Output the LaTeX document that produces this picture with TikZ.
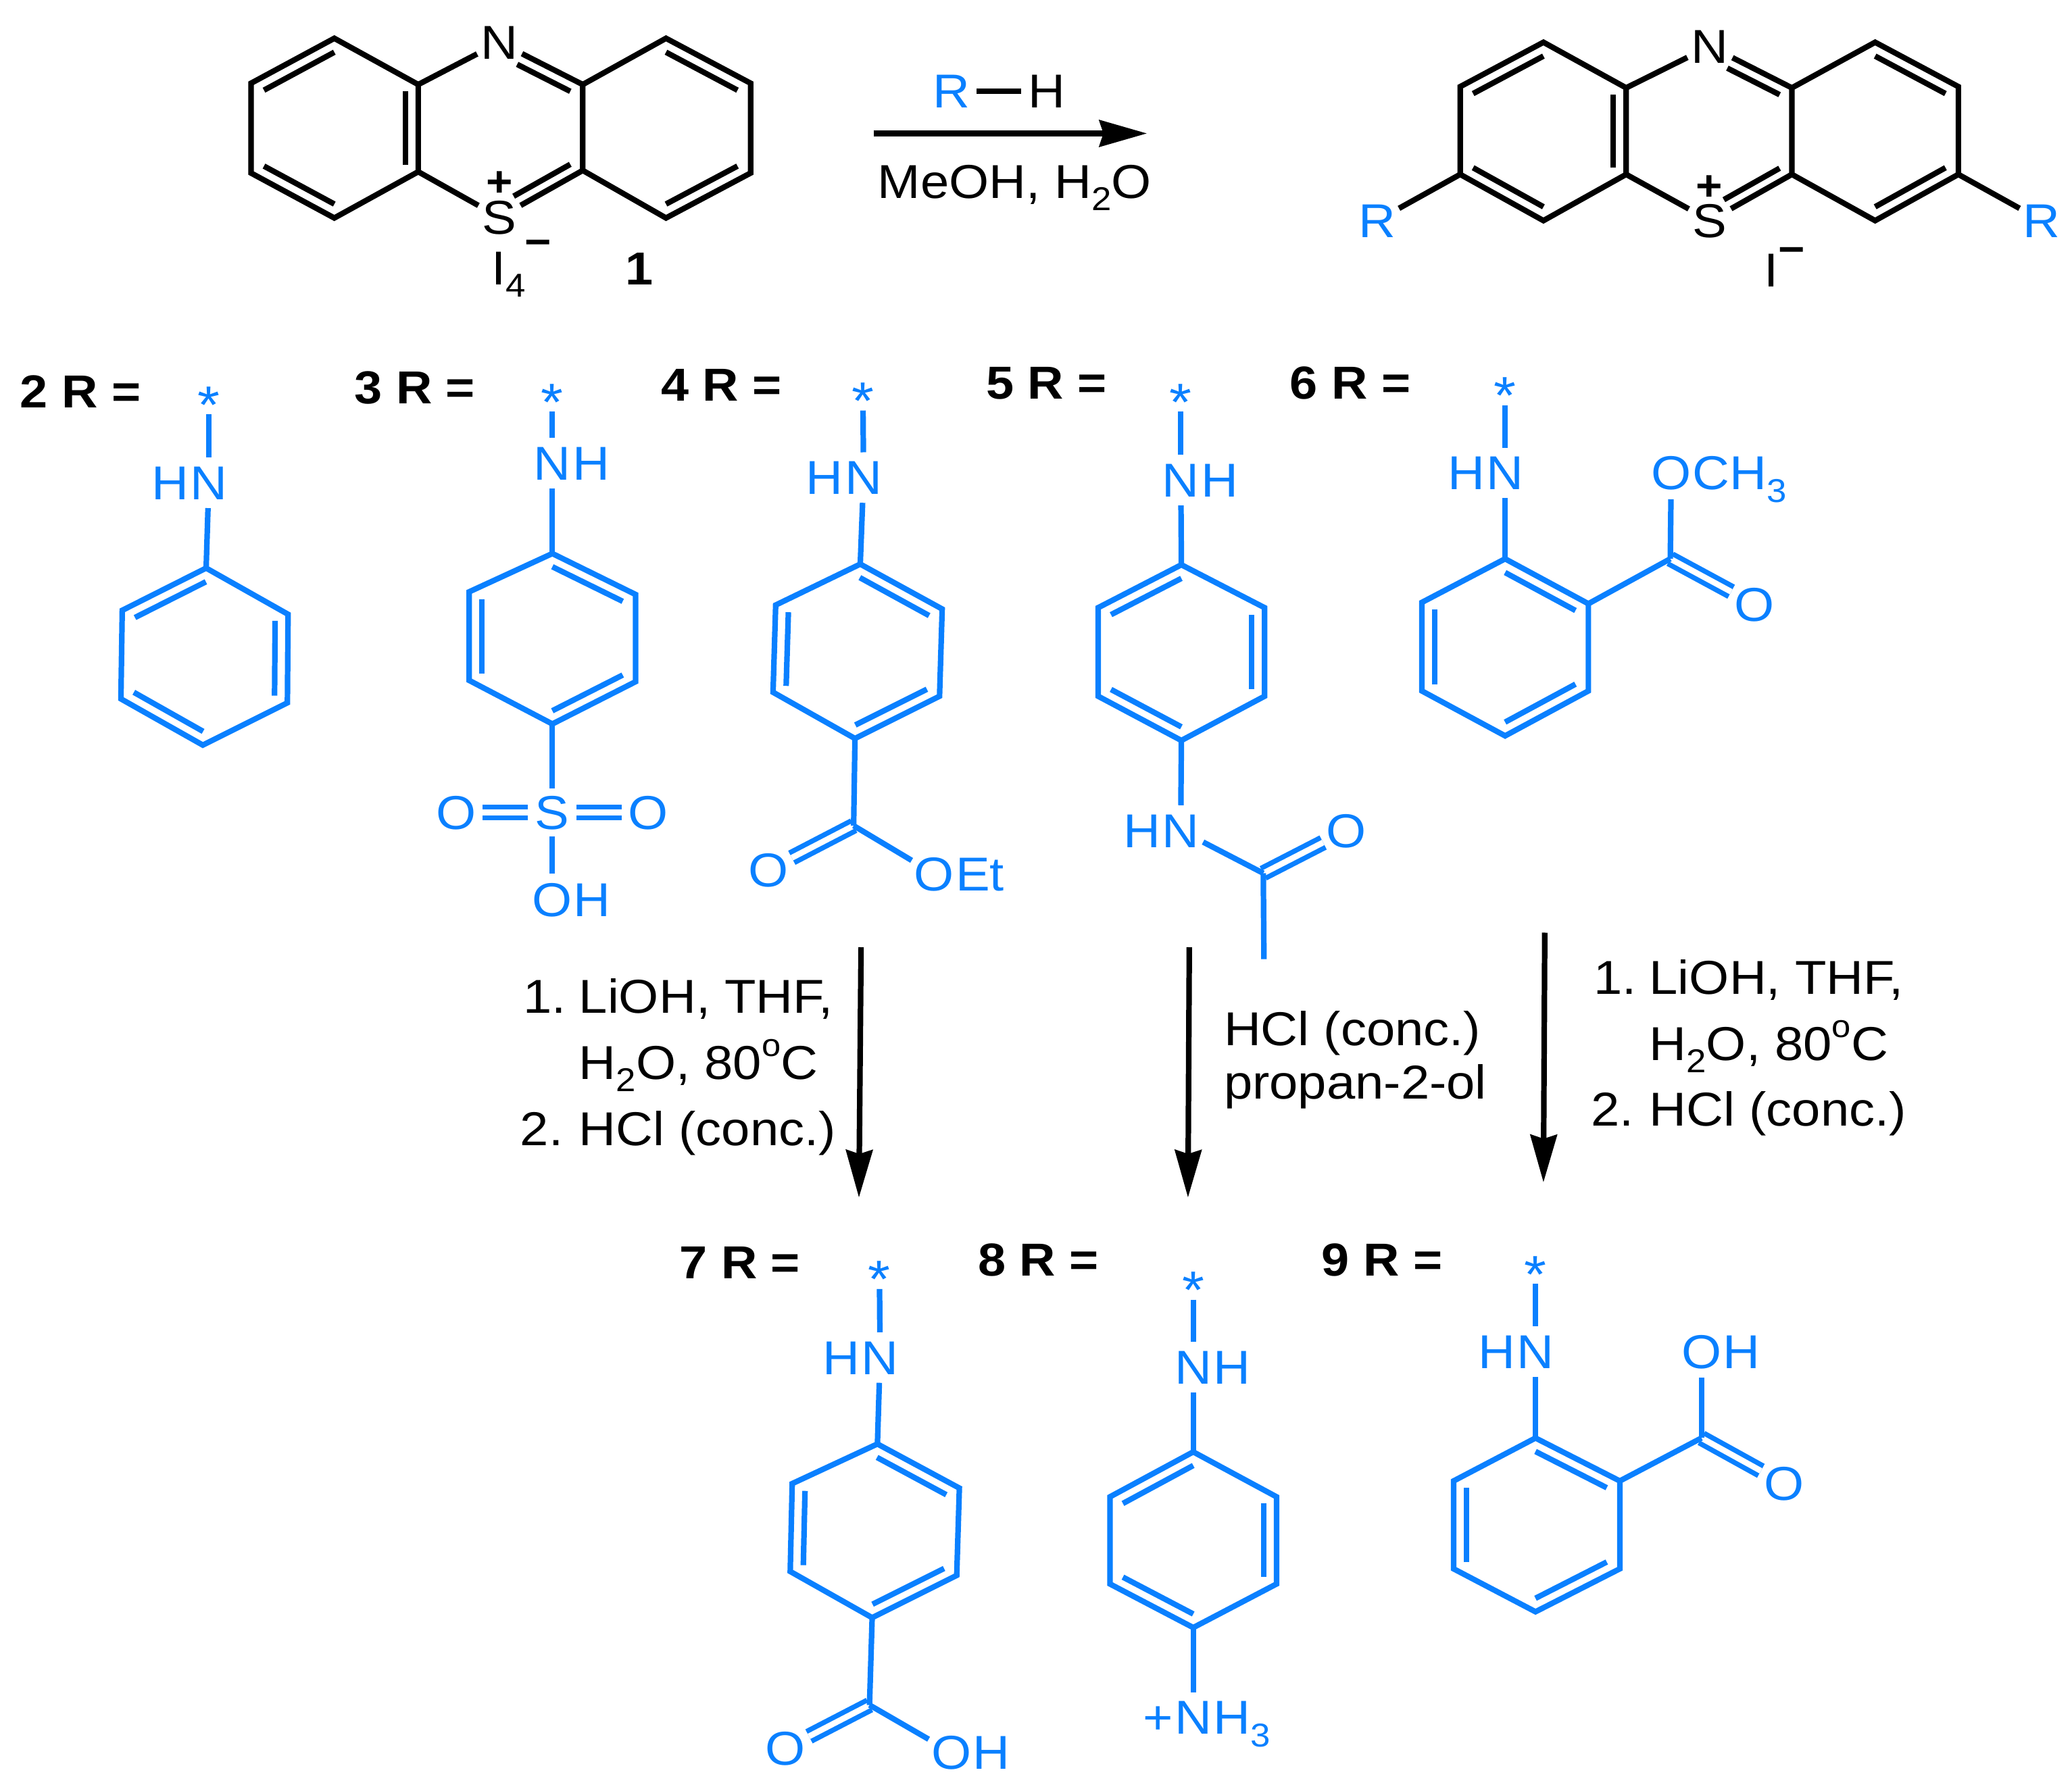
\documentclass[tikz,border=0pt]{standalone}
\usepackage{fontspec}
\setmainfont[FakeStretch=1.08]{Liberation Sans}
\usetikzlibrary{arrows.meta,calc,positioning}
\definecolor{rblue}{HTML}{0A80FF}
\newcommand{\subsc}[1]{\raisebox{-0.26em}{\fontsize{25}{25}\selectfont #1}}
\newcommand{\upo}{\raisebox{0.48em}{\fontsize{24}{24}\selectfont o}}
% ring corners run clockwise from the top: a b c d e f
\newcommand{\hexring}[8]{
  \coordinate (#1a) at (#2);
  \coordinate (#1b) at (#3);
  \coordinate (#1c) at (#4);
  \coordinate (#1d) at (#5);
  \coordinate (#1e) at (#6);
  \coordinate (#1f) at (#7);
  \coordinate (#1o) at ($(#1a)!0.5!(#1d)$);
  \draw[bond] (#1a) -- (#1b) -- (#1c) -- (#1d) -- (#1e) -- (#1f) -- cycle;
  \foreach \p/\q in {#8}{
    \draw[bond] ($(#1\p)!0.155!(#1o)$) -- ($(#1\q)!0.155!(#1o)$);
  };
}
\tikzset{
  every node/.style={font=\fontsize{36}{42}\selectfont},
  bond/.style={line width=4.2pt},
  dblbond/.style={line width=3.8pt, double=white, double distance=4.4pt},
  atom/.style={circle, inner sep=0pt, text height=25.5pt, text depth=0pt},
  tail/.style={inner sep=0pt, text height=25.5pt, text depth=0pt},
  starmark/.style={circle, inner sep=0pt, minimum size=27pt, font=\fontsize{40}{40}\selectfont},
  lab/.style={anchor=base west, inner sep=0pt, font=\fontsize{35}{40}\selectfont\bfseries},
  reag/.style={anchor=base west, inner sep=0pt},
  chg/.style={inner sep=0pt, font=\fontsize{32}{32}\selectfont\bfseries},
  rxn/.style={line width=4.2pt, -{Stealth[length=36pt,width=20pt,inset=3pt]}},
}
\newcommand{\starnode}[2]{\node[starmark] (#1) at (#2) {\smash{\raisebox{-0.51em}{*}}};}
\begin{document}
\begin{tikzpicture}[x=1pt, y=-1pt]
  \useasboundingbox (0,0) rectangle (1568,1351);

  % starting salt
  \hexring{la}{253,29}{316.5,64}{316.5,130}{253,165}{190,131}{190,63}{a/f,b/c,d/e}
  \hexring{ra}{504,29}{568,63}{568,131}{504,165}{441,129}{441,64}{a/b,c/d}
  \node[atom] (na) at (378,32) {N};
  \node[atom] (sa) at (378,164.5) {S};
  \coordinate (ca) at ($(na)!0.5!(sa)$);
  \draw[bond] (lab) -- (na);
  \draw[bond] (na) -- (raf);
  \draw[bond] (lac) -- (sa);
  \draw[bond] (sa) -- (rae);
  \draw[bond] ($(raf)!0.15!(ca)$) -- ($($(raf)!0.15!(ca)$)!0.75!($(378,32)!0.15!(ca)$)$);
  \draw[bond] ($(rae)!0.15!(ca)$) -- ($($(rae)!0.15!(ca)$)!0.8!($(378,164.5)!0.15!(ca)$)$);
  \node[chg] (pa) at (378,139) {+};
  \node[chg] (ma) at (407,188) {−};
  \node[reag] (ia) at (372,215.6) {I\subsc{4}};
  \node[reag, font=\fontsize{35}{40}\selectfont\bfseries] (numa) at (473,215.6) {1};

  % top arrow
  \node[atom, color=rblue] (rh) at (720,69) {R};
  \node[atom] (hh) at (792,69) {H};
  \draw[bond] (rh) -- (hh);
  \coordinate (topA) at (661,101);
  \coordinate (topB) at (868,101);
  \draw[rxn] (topA) -- (topB);
  \node[reag] (solv) at (664,150) {MeOH, H\subsc{2}O};

  % product
  \hexring{lb}{1168,32}{1230.6,66.5}{1230.6,132}{1168,167}{1105,132}{1105,65.6}{a/f,b/c,d/e}
  \hexring{rb}{1419,32}{1482,65.6}{1482,132}{1419,167}{1356,132}{1356,66.5}{a/b,c/d}
  \node[atom] (nb) at (1294,35) {N};
  \node[atom] (sb) at (1294,167) {S};
  \coordinate (cb) at ($(nb)!0.5!(sb)$);
  \draw[bond] (lbb) -- (nb);
  \draw[bond] (nb) -- (rbf);
  \draw[bond] (lbc) -- (sb);
  \draw[bond] (sb) -- (rbe);
  \draw[bond] ($(rbf)!0.15!(cb)$) -- ($($(rbf)!0.15!(cb)$)!0.75!($(1294,35)!0.15!(cb)$)$);
  \draw[bond] ($(rbe)!0.15!(cb)$) -- ($($(rbe)!0.15!(cb)$)!0.8!($(1294,167)!0.15!(cb)$)$);
  \node[chg] (pb) at (1293.5,142) {+};
  \node[chg] (mb) at (1356,193.5) {−};
  \node[reag] (ib) at (1335,217) {I};
  \node[atom, color=rblue] (rl) at (1042,167) {R};
  \node[atom, color=rblue] (rr) at (1545,167) {R};
  \draw[bond] (lbe) -- (rl);
  \draw[bond] (rbc) -- (rr);

  % series labels
  \foreach \n/\x/\y in {2/15/308.6,3/268/305.6,4/500/303.6,5/746/302,6/976/302,7/514/968,8/740/966,9/1000/966}{
    \node[lab] (lab\n) at (\x,\y) {\n{} R =};
  };

  % reagents over the down arrows
  \foreach \tag/\xa/\xb/\xc/\ya in {lft/396/393.5/438/767,rgt/1206/1204/1248/752.5}{
    \node[reag] (one\tag) at (\xa,\ya) {1.};
    \node[reag] (li\tag) at (\xc,\ya) {LiOH, THF,};
    \node[reag] (wat\tag) at (\xc,{\ya+50}) {H\subsc{2}O, 80\upo C};
    \node[reag] (two\tag) at (\xb,{\ya+100}) {2.};
    \node[reag] (hcl\tag) at (\xc,{\ya+100}) {HCl (conc.)};
  };
  \node[reag] (hclm) at (926,791.6) {HCl (conc.)};
  \node[reag] (prop) at (926,831.6) {propan-2-ol};
  \coordinate (dnAs) at (651.6,717);
  \coordinate (dnAe) at (650,906.5);
  \coordinate (dnBs) at (900,717);
  \coordinate (dnBe) at (899,906.5);
  \coordinate (dnCs) at (1169,706);
  \coordinate (dnCe) at (1168,895);
  \draw[rxn] (dnAs) -- (dnAe);
  \draw[rxn] (dnBs) -- (dnBe);
  \draw[rxn] (dnCs) -- (dnCe);

  \begin{scope}[color=rblue]
    % 2
    \starnode{st2}{158,300}
    \node[atom] (n2) at (158,365.5) {N};
    \node[tail, left=-4pt of n2] (h2) {H};
    \hexring{r2}{156,430}{218,465}{217.5,532}{153.5,564}{91.5,529}{92.5,462}{a/f,b/c,d/e}
    \draw[bond] (st2) -- (n2);
    \draw[bond] (n2) -- (r2a);

    % 3
    \starnode{st3}{418,298}
    \node[atom] (n3) at (418,350.5) {N};
    \node[tail, right=-4pt of n3] (h3) {H};
    \hexring{r3}{418,419}{481,450}{481,516}{418,548}{355,515}{355,448}{a/b,c/d,e/f}
    \node[atom] (s3) at (418,615) {S};
    \node[atom] (ol3) at (345,615) {O};
    \node[atom] (or3) at (490.5,615) {O};
    \node[atom] (oh3) at (418,681) {O};
    \node[tail, right=-4pt of oh3] (hh3) {H};
    \draw[bond] (st3) -- (n3);
    \draw[bond] (n3) -- (r3a);
    \draw[bond] (r3d) -- (s3);
    \draw[bond] (s3) -- (oh3);
    \draw[dblbond] (s3) -- (ol3);
    \draw[dblbond] (s3) -- (or3);

    % 4
    \starnode{st4}{653,297}
    \node[atom] (n4) at (653.5,361.5) {N};
    \node[tail, left=-4pt of n4] (h4) {H};
    \hexring{r4}{651,427}{713,461}{711,527}{647,559}{585,524}{587,458}{a/b,c/d,e/f}
    \coordinate (c4) at (646,625);
    \node[atom] (o4) at (581.5,658.5) {O};
    \node[atom] (oe4) at (707,661.5) {O};
    \node[tail, right=-4pt of oe4] (et4) {Et};
    \draw[dblbond] (c4) -- (o4);
    \draw[bond] (st4) -- (n4);
    \draw[bond] (n4) -- (r4a);
    \draw[bond] (r4d) -- (c4);
    \draw[bond] (c4) -- (oe4);

    % 5
    \starnode{st5}{893.6,298}
    \node[atom] (n5) at (893.6,363.5) {N};
    \node[tail, right=-4pt of n5] (h5) {H};
    \hexring{r5}{894,427.5}{957,460}{957,527}{894,560.5}{831,527}{831,460}{a/f,b/c,d/e}
    \node[atom] (m5) at (893.5,628.6) {N};
    \node[tail, left=-4pt of m5] (k5) {H};
    \coordinate (c5) at (956,661);
    \coordinate (me5) at (956.5,726);
    \node[atom] (o5) at (1019,628.6) {O};
    \draw[dblbond] (c5) -- (o5);
    \draw[bond] (st5) -- (n5);
    \draw[bond] (n5) -- (r5a);
    \draw[bond] (r5d) -- (m5);
    \draw[bond] (m5) -- (c5);
    \draw[bond] (c5) -- (me5);

    % 6
    \starnode{st6}{1139,293}
    \node[atom] (n6) at (1139,358) {N};
    \node[tail, left=-4pt of n6] (h6) {H};
    \hexring{r6}{1139,423}{1202,457}{1202,523}{1139,557}{1076,523}{1076,456}{a/b,c/d,e/f}
    \coordinate (c6) at (1264,423);
    \node[atom] (om6) at (1264.7,358) {O};
    \node[tail, right=-4pt of om6, anchor=west] (me6) {CH\subsc{3}};
    \node[atom] (o6) at (1327.6,457.4) {O};
    \draw[dblbond] (c6) -- (o6);
    \draw[bond] (st6) -- (n6);
    \draw[bond] (n6) -- (r6a);
    \draw[bond] (r6b) -- (c6);
    \draw[bond] (c6) -- (om6);

    % 7
    \starnode{st7}{665.5,962}
    \node[atom] (n7) at (666,1027.6) {N};
    \node[tail, left=-4pt of n7] (h7) {H};
    \hexring{r7}{664,1093}{726,1126.4}{724,1192.5}{660,1224.5}{598,1189.5}{599.5,1123}{a/b,c/d,e/f}
    \coordinate (c7) at (658,1290.6);
    \node[atom] (o7) at (594.5,1323.5) {O};
    \node[atom] (oh7) at (720,1326.5) {O};
    \node[tail, right=-4pt of oh7] (hh7) {H};
    \draw[dblbond] (c7) -- (o7);
    \draw[bond] (st7) -- (n7);
    \draw[bond] (n7) -- (r7a);
    \draw[bond] (r7d) -- (c7);
    \draw[bond] (c7) -- (oh7);

    % 8
    \starnode{st8}{903,970}
    \node[atom] (n8) at (903,1035) {N};
    \node[tail, right=-4pt of n8] (h8) {H};
    \hexring{r8}{903,1099}{966,1133}{966,1199}{903,1232}{840,1199}{840,1133}{a/f,b/c,d/e}
    \node[atom] (m8) at (903,1300) {N};
    \node[tail, right=-4pt of m8, anchor=west] (k8) {H\subsc{3}};
    \node[tail, left=-4pt of m8] (p8) {+};
    \draw[bond] (st8) -- (n8);
    \draw[bond] (n8) -- (r8a);
    \draw[bond] (r8d) -- (m8);

    % 9
    \starnode{st9}{1162,958}
    \node[atom] (n9) at (1162,1023) {N};
    \node[tail, left=-4pt of n9] (h9) {H};
    \hexring{r9}{1162,1088.5}{1225.8,1121}{1225.8,1187.5}{1162,1220}{1100,1187.5}{1100,1121}{a/b,c/d,e/f}
    \coordinate (c9) at (1287.6,1088.5);
    \node[atom] (oh9) at (1287.6,1023) {O};
    \node[tail, right=-4pt of oh9] (hh9) {H};
    \node[atom] (o9) at (1350,1123) {O};
    \draw[dblbond] (c9) -- (o9);
    \draw[bond] (st9) -- (n9);
    \draw[bond] (n9) -- (r9a);
    \draw[bond] (r9b) -- (c9);
    \draw[bond] (c9) -- (oh9);
  \end{scope}
\end{tikzpicture}
\end{document}
